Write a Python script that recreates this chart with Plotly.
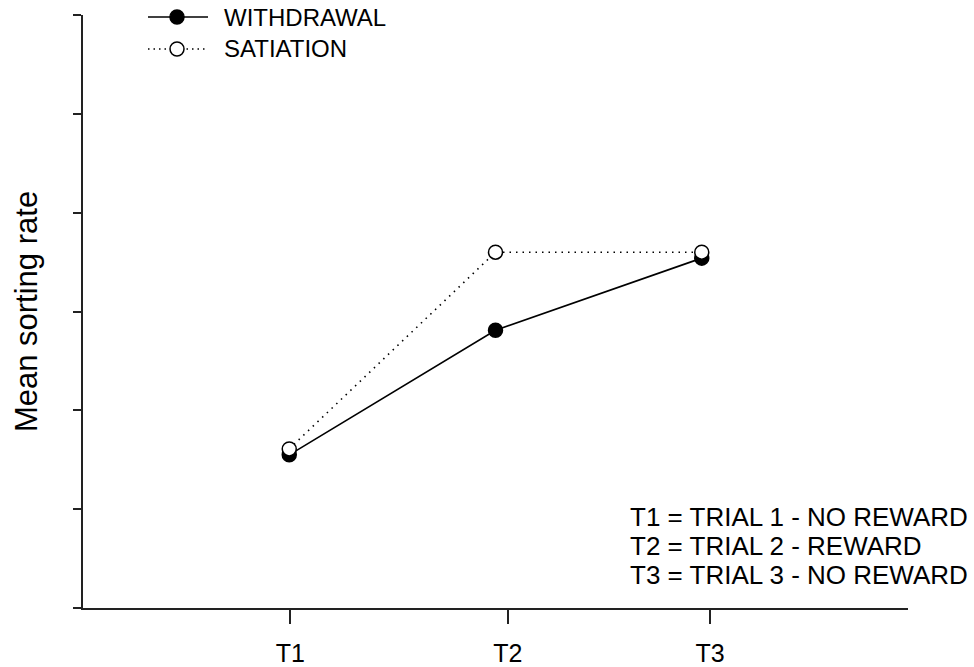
import plotly.graph_objects as go

trials = [1, 2, 3]
tick_positions = [1.005, 2.06, 3.04]
tick_labels = ["T1", "T2", "T3"]
withdrawal = [1.55, 2.81, 3.54]
satiation = [1.61, 3.60, 3.60]
series_names = ["WITHDRAWAL", "SATIATION"]
notes = ["T1 = TRIAL 1 - NO REWARD", "T2 = TRIAL 2 - REWARD", "T3 = TRIAL 3 - NO REWARD"]
note_y = [0.92, 0.63, 0.33]

FONT = "Liberation Sans, Arial, sans-serif"
W, H = 974, 667
L, R, T, B = 83, 66, 15, 59
PW, PH = W - L - R, H - T - B


def px(xp):
    return (xp - L) / PW


def py(yp):
    return (H - B - yp) / PH


fig = go.Figure()
fig.add_trace(go.Scatter(
    x=trials, y=withdrawal, name=series_names[0], mode="lines+markers", showlegend=False,
    line=dict(color="black", width=1.6),
    marker=dict(symbol="circle", size=14, color="black", line=dict(color="black", width=1.5)),
))
fig.add_trace(go.Scatter(
    x=trials, y=satiation, name=series_names[1], mode="lines+markers", showlegend=False,
    line=dict(color="black", width=1.6, dash="1.5px,5px"),
    marker=dict(symbol="circle", size=14, color="white", line=dict(color="black", width=1.5)),
))

# manual legend (long sample lines like the reference)
legend_rows = [(17, "solid", "black"), (49, "1.5px,4px", "white")]
for name, (ry, dash, fill) in zip(series_names, legend_rows):
    fig.add_shape(type="line", xref="paper", yref="paper",
                  x0=px(148), x1=px(208), y0=py(ry), y1=py(ry),
                  line=dict(color="black", width=1.6, dash=dash))
    fig.add_shape(type="circle", xref="paper", yref="paper",
                  xsizemode="pixel", ysizemode="pixel",
                  xanchor=px(177), yanchor=py(ry), x0=-7, x1=7, y0=-7, y1=7,
                  fillcolor=fill, line=dict(color="black", width=1.5))
    fig.add_annotation(x=px(222), y=py(ry), xref="paper", yref="paper", text=name,
                       showarrow=False, xanchor="left", yanchor="middle",
                       font=dict(family=FONT, size=24, color="black"))

for txt, yy in zip(notes, note_y):
    fig.add_annotation(x=px(628), y=yy, xref="paper", yref="y", text=txt, showarrow=False,
                       xanchor="left", yanchor="middle",
                       font=dict(family=FONT, size=26, color="black"))

fig.update_layout(
    width=W, height=H,
    margin=dict(l=L, r=R, t=T, b=B),
    paper_bgcolor="white", plot_bgcolor="white",
    font=dict(family=FONT, size=24, color="black"),
    showlegend=False,
)
fig.update_xaxes(range=[0, 4], showgrid=False, zeroline=False, automargin=False,
                 showline=True, linecolor="#222", linewidth=2,
                 ticks="outside", ticklen=14, tickwidth=1.5, tickcolor="#222",
                 tickvals=tick_positions, ticktext=tick_labels,
                 tickfont=dict(size=25), ticklabelstandoff=8)
fig.update_yaxes(range=[0, 6], showgrid=False, zeroline=False, automargin=False,
                 showline=True, linecolor="#222", linewidth=2,
                 ticks="outside", ticklen=8, tickwidth=1.5, tickcolor="#222",
                 tickvals=[0, 1, 2, 3, 4, 5, 6], showticklabels=False,
                 title=dict(text="Mean sorting rate", font=dict(size=31), standoff=26))

fig.write_html("out.html")
